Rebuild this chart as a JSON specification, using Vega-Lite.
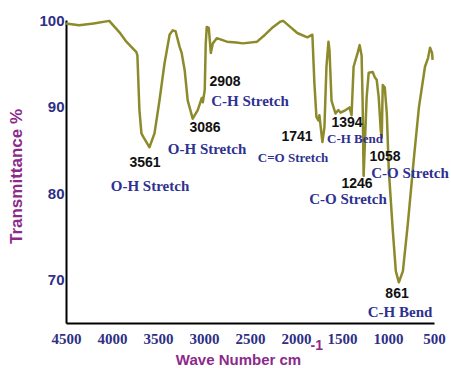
{
  "$schema": "https://vega.github.io/schema/vega-lite/v6.json",
  "width": 368,
  "height": 303,
  "autosize": {"type": "none"},
  "padding": {"left": 66, "top": 20, "right": 17, "bottom": 45},
  "background": "white",
  "config": {"view": {"stroke": null}},
  "datasets": {
    "spectrum": [
      {"wn": 4500, "t": 99.6}, {"wn": 4358, "t": 99.4}, {"wn": 4200, "t": 99.6}, {"wn": 4030, "t": 99.9},
      {"wn": 3921, "t": 98.6}, {"wn": 3844, "t": 97.5}, {"wn": 3790, "t": 96.9}, {"wn": 3735, "t": 96.3},
      {"wn": 3724, "t": 95.9}, {"wn": 3702, "t": 89.6}, {"wn": 3680, "t": 86.9}, {"wn": 3660, "t": 86.5},
      {"wn": 3637, "t": 86.1}, {"wn": 3593, "t": 85.3}, {"wn": 3538, "t": 86.9}, {"wn": 3484, "t": 90.7},
      {"wn": 3429, "t": 95.0}, {"wn": 3407, "t": 96.3}, {"wn": 3374, "t": 98.3}, {"wn": 3341, "t": 98.8},
      {"wn": 3309, "t": 98.7}, {"wn": 3265, "t": 96.9}, {"wn": 3243, "t": 96.2}, {"wn": 3210, "t": 94.2},
      {"wn": 3177, "t": 90.7}, {"wn": 3123, "t": 88.6}, {"wn": 3068, "t": 89.6}, {"wn": 3024, "t": 91.0},
      {"wn": 3013, "t": 90.5}, {"wn": 2992, "t": 91.9}, {"wn": 2981, "t": 97.3}, {"wn": 2970, "t": 99.2},
      {"wn": 2948, "t": 99.1}, {"wn": 2926, "t": 96.2}, {"wn": 2904, "t": 97.3}, {"wn": 2861, "t": 97.9},
      {"wn": 2751, "t": 97.5}, {"wn": 2650, "t": 97.4}, {"wn": 2576, "t": 97.3}, {"wn": 2423, "t": 97.5},
      {"wn": 2336, "t": 98.3}, {"wn": 2248, "t": 99.2}, {"wn": 2172, "t": 99.8}, {"wn": 2139, "t": 99.9},
      {"wn": 2063, "t": 99.2}, {"wn": 1986, "t": 98.5}, {"wn": 1877, "t": 98.0}, {"wn": 1822, "t": 98.3},
      {"wn": 1800, "t": 92.7}, {"wn": 1778, "t": 88.8}, {"wn": 1757, "t": 88.4}, {"wn": 1746, "t": 89.0},
      {"wn": 1713, "t": 85.9}, {"wn": 1691, "t": 87.6}, {"wn": 1669, "t": 94.6}, {"wn": 1647, "t": 97.5},
      {"wn": 1636, "t": 96.5}, {"wn": 1614, "t": 90.7}, {"wn": 1571, "t": 89.2}, {"wn": 1540, "t": 89.6},
      {"wn": 1516, "t": 89.3}, {"wn": 1461, "t": 89.6}, {"wn": 1418, "t": 89.9}, {"wn": 1396, "t": 89.0},
      {"wn": 1374, "t": 94.6}, {"wn": 1330, "t": 96.2}, {"wn": 1308, "t": 97.1}, {"wn": 1287, "t": 95.9},
      {"wn": 1276, "t": 90.7}, {"wn": 1265, "t": 82.0}, {"wn": 1232, "t": 91.1}, {"wn": 1210, "t": 93.9},
      {"wn": 1166, "t": 94.0}, {"wn": 1144, "t": 93.4}, {"wn": 1123, "t": 93.1}, {"wn": 1101, "t": 91.1},
      {"wn": 1079, "t": 87.3}, {"wn": 1068, "t": 86.4}, {"wn": 1057, "t": 92.5}, {"wn": 1035, "t": 92.2},
      {"wn": 1013, "t": 89.2}, {"wn": 991, "t": 82.6}, {"wn": 948, "t": 75.7}, {"wn": 915, "t": 71.0},
      {"wn": 882, "t": 69.7}, {"wn": 838, "t": 71.0}, {"wn": 784, "t": 76.5}, {"wn": 718, "t": 84.1},
      {"wn": 664, "t": 89.9}, {"wn": 598, "t": 94.6}, {"wn": 565, "t": 95.6}, {"wn": 543, "t": 96.8},
      {"wn": 521, "t": 96.2}, {"wn": 515, "t": 95.4}
    ],
    "peaks": [
      {"wn": 3641, "t": 83.5, "text": "3561"},
      {"wn": 2989, "t": 87.5, "text": "3086"},
      {"wn": 2772, "t": 92.8, "text": "2908"},
      {"wn": 1989, "t": 86.5, "text": "1741"},
      {"wn": 1446, "t": 88.1, "text": "1394"},
      {"wn": 1032, "t": 84.2, "text": "1058"},
      {"wn": 1337, "t": 81.1, "text": "1246"},
      {"wn": 902, "t": 68.4, "text": "861"}
    ],
    "assignments": [
      {"peak": "3561", "wn": 3587, "t": 80.8, "text": "O-H Stretch"},
      {"peak": "3086", "wn": 2967, "t": 85.1, "text": "O-H Stretch"},
      {"peak": "2908", "wn": 2500, "t": 90.6, "text": "C-H Stretch"},
      {"peak": "1741", "wn": 2033, "t": 84.1, "text": "C=O Stretch"},
      {"peak": "1394", "wn": 1359, "t": 86.2, "text": "C-H Bend"},
      {"peak": "1058", "wn": 761, "t": 82.3, "text": "C-O Stretch"},
      {"peak": "1246", "wn": 1435, "t": 79.3, "text": "C-O Stretch"},
      {"peak": "861", "wn": 869, "t": 66.3, "text": "C-H Bend"}
    ],
    "unit": [
      {"wn": 1775, "t": 62.3, "text": "-1"}
    ]
  },
  "layer": [
    {
      "data": {"name": "spectrum"},
      "mark": {"type": "line", "color": "#8c8a2b", "strokeWidth": 2.5, "strokeJoin": "round"},
      "encoding": {
        "x": {
          "field": "wn", "type": "quantitative",
          "scale": {"domain": [500, 4500], "reverse": true, "nice": false},
          "axis": {
            "values": [4500, 4000, 3500, 3000, 2500, 2000, 1500, 1000, 500],
            "format": "d",
            "grid": false, "ticks": false,
            "domainColor": "black", "domainWidth": 2,
            "labelFont": "Liberation Serif", "labelFontWeight": "bold", "labelFontSize": 15,
            "labelColor": "#2e3085", "labelPadding": 8, "labelFlush": false,
            "title": "Wave Number cm",
            "titleFont": "Liberation Sans", "titleFontWeight": "bold", "titleFontSize": 15,
            "titleColor": "#8b2a8a", "titleX": 172, "titleY": 36, "titleBaseline": "middle", "titleAlign": "center"
          }
        },
        "y": {
          "field": "t", "type": "quantitative",
          "scale": {"domain": [65, 100], "nice": false, "zero": false},
          "axis": {
            "values": [70, 80, 90, 100],
            "grid": false, "ticks": false,
            "domainColor": "black", "domainWidth": 2,
            "labelFont": "Liberation Sans", "labelFontWeight": "bold", "labelFontSize": 15,
            "labelColor": "#2e3085", "labelPadding": 2,
            "title": "Transmittance %",
            "titleFont": "Liberation Sans", "titleFontWeight": "bold", "titleFontSize": 17,
            "titleColor": "#8b2a8a", "titleX": -50, "titleY": 156, "titleAngle": 270,
            "titleBaseline": "middle", "titleAlign": "center"
          }
        }
      }
    },
    {
      "data": {"name": "peaks"},
      "mark": {"type": "text", "font": "Liberation Sans", "fontWeight": "bold", "fontSize": 14, "color": "#111111", "baseline": "middle", "align": "center"},
      "encoding": {
        "x": {"field": "wn", "type": "quantitative"},
        "y": {"field": "t", "type": "quantitative"},
        "text": {"field": "text"}
      }
    },
    {
      "data": {"name": "assignments"},
      "mark": {"type": "text", "font": "Liberation Serif", "fontWeight": "bold", "color": "#2e3190", "baseline": "middle", "align": "center"},
      "encoding": {
        "x": {"field": "wn", "type": "quantitative"},
        "y": {"field": "t", "type": "quantitative"},
        "text": {"field": "text"},
        "size": {"condition": {"test": "datum.peak == '1394' || datum.peak == '1741'", "value": 13}, "value": 15}
      }
    },
    {
      "data": {"name": "unit"},
      "mark": {"type": "text", "font": "Liberation Sans", "fontWeight": "bold", "fontSize": 14, "color": "#8b2a8a", "baseline": "middle", "align": "center"},
      "encoding": {
        "x": {"field": "wn", "type": "quantitative"},
        "y": {"field": "t", "type": "quantitative"},
        "text": {"field": "text"}
      }
    }
  ]
}
